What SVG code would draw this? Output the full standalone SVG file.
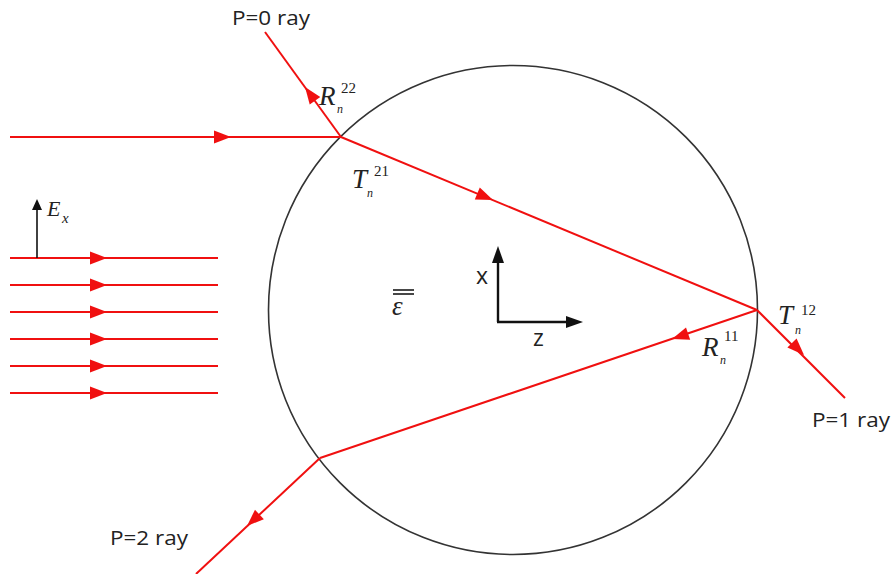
<svg xmlns="http://www.w3.org/2000/svg" xmlns:xlink="http://www.w3.org/1999/xlink" width="896" height="574" viewBox="0 0 896 574">
<style>
.ray{stroke:#f01010;stroke-width:2;fill:none}
.ah{fill:#f01010}
.lbl{font-family:"Open Sans","Liberation Sans",sans-serif;font-size:20px;fill:#222}
.ax{font-family:"Open Sans","Liberation Sans",sans-serif;font-size:23px;fill:#222}
.m{font-family:"Liberation Serif","DejaVu Serif",serif;font-style:italic;fill:#222}
.big{font-size:27px}
.sup{font-family:"Liberation Serif","DejaVu Serif",serif;font-size:15px;fill:#222}
.sub{font-family:"Liberation Serif","DejaVu Serif",serif;font-style:italic;font-size:12px;fill:#222}
.subx{font-family:"Liberation Serif","DejaVu Serif",serif;font-style:italic;font-size:15px;fill:#222}
</style>
<defs>
<path id="ah" d="M0,0 L-17,-6.5 L-17,6.5 Z"/>
<path id="ahb" d="M0,0 L-11,-5 L-11,5 Z"/>
</defs>
<rect width="896" height="574" fill="#fff"/>
<g id="sphere">
<circle cx="513" cy="310" r="244.5" fill="none" stroke="#333" stroke-width="1.6"/>
</g>
<g id="connectors">
<line class="ray" x1="10" y1="137" x2="341" y2="137"/>
<line class="ray" x1="341" y1="137" x2="265" y2="32"/>
<line class="ray" x1="341" y1="137" x2="757" y2="310"/>
<line class="ray" x1="757" y1="310" x2="845" y2="398"/>
<line class="ray" x1="757" y1="310" x2="320" y2="458"/>
<line class="ray" x1="320" y1="458" x2="196" y2="574"/>
<g class="ah">
<use xlink:href="#ah" transform="translate(231,137)"/>
<use xlink:href="#ah" transform="translate(305,87) rotate(234)"/>
<use xlink:href="#ah" transform="translate(493,200) rotate(22.6)"/>
<use xlink:href="#ah" transform="translate(804,355) rotate(45)"/>
<use xlink:href="#ah" transform="translate(672,339) rotate(161.3)"/>
<use xlink:href="#ah" transform="translate(247,526) rotate(136.9)"/>
</g>
</g>
<g id="plane-wave">
<g class="ray">
<line x1="10" y1="258" x2="218" y2="258"/>
<line x1="10" y1="285" x2="218" y2="285"/>
<line x1="10" y1="312" x2="218" y2="312"/>
<line x1="10" y1="339" x2="218" y2="339"/>
<line x1="10" y1="366" x2="218" y2="366"/>
<line x1="10" y1="393" x2="218" y2="393"/>
</g>
<g class="ah">
<use xlink:href="#ah" transform="translate(107,258)"/>
<use xlink:href="#ah" transform="translate(107,285)"/>
<use xlink:href="#ah" transform="translate(107,312)"/>
<use xlink:href="#ah" transform="translate(107,339)"/>
<use xlink:href="#ah" transform="translate(107,366)"/>
<use xlink:href="#ah" transform="translate(107,393)"/>
</g>
</g>
<g id="ex-arrow">
<line x1="37" y1="258" x2="37" y2="208" stroke="#111" stroke-width="1.6"/>
<use xlink:href="#ahb" transform="translate(37,199) rotate(-90)" fill="#111"/>
<text class="m" x="47" y="216" font-size="22">E</text>
<text class="subx" x="62" y="223">x</text>
</g>
<g id="axes">
<line x1="498" y1="322" x2="498" y2="262" stroke="#111" stroke-width="2.4"/>
<line x1="497" y1="322" x2="566" y2="322" stroke="#111" stroke-width="2.4"/>
<path d="M498,246 L492,263 L504,263 Z" fill="#111"/>
<path d="M583,322 L566,316 L566,328 Z" fill="#111"/>
<text class="ax" x="476" y="284">x</text>
<text class="ax" x="533" y="346">z</text>
</g>
<g id="epsilon">
<line x1="393" y1="290" x2="414" y2="290" stroke="#333" stroke-width="1.8"/>
<line x1="393" y1="294" x2="414" y2="294" stroke="#333" stroke-width="1.8"/>
<text class="m" x="392" y="315" font-size="27" fill="#333">ε</text>
</g>
<g id="labels">
<text class="lbl" x="232" y="25" textLength="78" lengthAdjust="spacingAndGlyphs">P=0 ray</text>
<text class="lbl" x="812" y="427" textLength="78" lengthAdjust="spacingAndGlyphs">P=1 ray</text>
<text class="lbl" x="110" y="545" textLength="78" lengthAdjust="spacingAndGlyphs">P=2 ray</text>
<text class="m big" x="319" y="105">R</text>
<text class="sup" x="341" y="93">22</text>
<text class="sub" x="337" y="113">n</text>
<text class="m big" x="352" y="188">T</text>
<text class="sup" x="374" y="176">21</text>
<text class="sub" x="367" y="197">n</text>
<text class="m big" x="778" y="324">T</text>
<text class="sup" x="801" y="315">12</text>
<text class="sub" x="795" y="334">n</text>
<text class="m big" x="702" y="356">R</text>
<text class="sup" x="724" y="341">11</text>
<text class="sub" x="720" y="364">n</text>
</g>
</svg>
